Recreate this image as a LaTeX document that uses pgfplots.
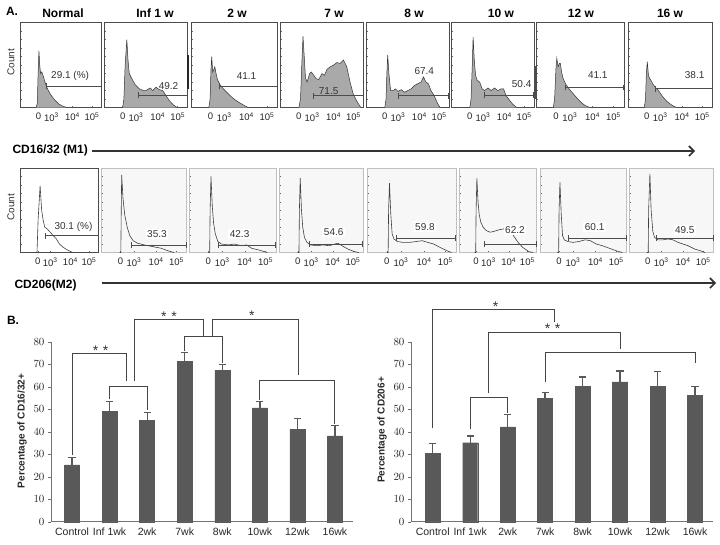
\documentclass[border=0pt]{standalone}
\usepackage{pgfplots}
\pgfplotsset{compat=1.18}
\usetikzlibrary{arrows.meta}
\usepackage{fontspec}
\setmainfont{Liberation Sans}
\definecolor{barg}{HTML}{595959}
\definecolor{brk}{HTML}{454545}
\definecolor{histfill}{HTML}{A9A9A9}
\pgfplotsset{
 histo/.style={scale only axis, anchor=south west, xmin=0,xmax=1,ymin=0,ymax=1,
   xtick={0.22,0.38,0.64,0.88},
   xticklabels={0,10\textsuperscript{3},10\textsuperscript{4},10\textsuperscript{5}},
   ytick={0.1,0.2,...,0.9}, yticklabels={}, tick align=inside, major tick length=1.6pt,
   xtick pos=left, ytick pos=left,
   tick style={black!60, line width=0.4pt},
   xticklabel style={font=\fontsize{9.5}{10}\selectfont, text=black!85, yshift=-1.5pt},
   axis line style={black!70, line width=0.6pt}, clip=false},
 h2/.style={axis line style={black!25, line width=0.6pt}, axis background/.style={fill=black!3}},
 c1/.style={draw=black!80, fill=histfill, line width=0.5pt},
 c2/.style={draw=black!75, line width=0.6pt},
 gate/.style={black!70, line width=0.7pt, |-|},
 barax/.style={scale only axis, anchor=south west, width=302pt, height=180pt,
   ymin=0, ymax=80, axis x line*=bottom, axis y line*=left,
   axis line style={black!55, line width=0.6pt},
   ytick={0,10,...,80}, xtick={0,...,7},
   xticklabels={Control,Inf 1wk,2wk,7wk,8wk,10wk,12wk,16wk},
   x tick style={draw=none}, y tick style={black!55},
   tick align=outside, major tick length=3pt,
   ticklabel style={font=\fontsize{10.5}{12}\selectfont, text=black!85},
   clip=false, unbounded coords=jump},
 barpl/.style={ybar, bar width=15pt, fill=barg, draw=barg},
 whisk/.style={barg, line width=1.3pt},
 caps/.style={only marks, mark=-, mark size=3.6pt, mark options={draw=barg, line width=1.3pt}},
}
\tikzset{
 lab/.style={font=\fontsize{10}{11}\selectfont, text=black!80},
 labw/.style={lab, fill=white, inner sep=1.5pt},
 ttl/.style={font=\fontsize{12}{14}\selectfont\bfseries},
 brkl/.style={brk, line width=1pt},
 star/.style={font=\fontsize{14}{15}\selectfont, text=black!80, anchor=base},
}
\newcommand{\histA}[8]{%
\begin{axis}[histo,at={(#1pt,-#2pt)},width=#3pt,height=#4pt,#5]
\addplot[c1] coordinates {#6};
\addplot[gate] coordinates {#7};
#8
\end{axis}}
\newcommand{\histB}[8]{%
\begin{axis}[histo,at={(#1pt,-#2pt)},width=#3pt,height=#4pt,#5]
\addplot[c2] coordinates {#6};
\addplot[gate] coordinates {#7};
#8
\end{axis}}
\begin{document}
\begin{tikzpicture}
\useasboundingbox (0,0) rectangle (720pt,-544pt);
% ---------- panel labels ----------
\node[ttl] at (12pt,-11.5pt) {A.};
\node[ttl] at (13pt,-320pt) {B.};
% ---------- titles row 1 ----------
\node[ttl] at (63pt,-13pt) {Normal};
\node[ttl] at (155pt,-13pt) {Inf 1 w};
\node[ttl] at (237pt,-13pt) {2 w};
\node[ttl] at (334pt,-13pt) {7 w};
\node[ttl] at (414pt,-13pt) {8 w};
\node[ttl] at (501pt,-13pt) {10 w};
\node[ttl] at (581pt,-13pt) {12 w};
\node[ttl] at (670pt,-13pt) {16 w};
\node[lab, rotate=90] at (11pt,-62pt) {Count};
\node[lab, rotate=90] at (11pt,-207pt) {Count};
% ---------- row 1 ----------
\histA{20.7}{107.5}{81}{84.8}{}{(0.19,0)(0.205,0.05)(0.215,0.4)(0.225,0.67)(0.235,0.5)(0.245,0.4)(0.26,0.42)(0.275,0.38)(0.3,0.3)(0.33,0.22)(0.37,0.15)(0.42,0.09)(0.47,0.04)(0.52,0.015)(0.57,0)}{(0.31,0.255)(1,0.255)}{\node[lab] at (axis cs:0.61,0.37) {29.1 (\%)};}
\histA{104.3}{107.5}{83.4}{84.8}{}{(0.22,0)(0.235,0.1)(0.25,0.5)(0.27,0.80)(0.285,0.55)(0.3,0.4)(0.33,0.34)(0.37,0.27)(0.42,0.22)(0.47,0.2)(0.5,0.2)(0.55,0.23)(0.58,0.2)(0.62,0.24)(0.66,0.21)(0.7,0.2)(0.74,0.14)(0.78,0.08)(0.83,0.03)(0.87,0)}{(0.40,0.145)(1,0.145)}{\node[lab] at (axis cs:0.77,0.25) {49.2};}
\histA{191.7}{107.5}{85.6}{84.8}{}{(0.2,0)(0.215,0.1)(0.225,0.45)(0.234,0.60)(0.245,0.42)(0.26,0.45)(0.27,0.48)(0.285,0.4)(0.3,0.33)(0.33,0.27)(0.37,0.22)(0.42,0.17)(0.47,0.12)(0.52,0.08)(0.57,0.05)(0.62,0.02)(0.66,0)}{(0.32,0.25)(1,0.25)}{\node[lab] at (axis cs:0.64,0.37) {41.1};}
\histA{280.7}{107.5}{82.6}{84.8}{}{(0.22,0)(0.24,0.1)(0.255,0.5)(0.27,0.84)(0.285,0.6)(0.3,0.35)(0.32,0.3)(0.35,0.4)(0.37,0.42)(0.4,0.38)(0.43,0.34)(0.46,0.33)(0.5,0.4)(0.53,0.38)(0.56,0.45)(0.6,0.48)(0.64,0.5)(0.68,0.53)(0.72,0.52)(0.76,0.56)(0.8,0.48)(0.84,0.3)(0.88,0.15)(0.93,0.06)(0.97,0)}{(0.39,0.14)(1,0.14)}{\node[lab] at (axis cs:0.58,0.19) {71.5};}
\histA{366.7}{107.5}{82.3}{84.8}{}{(0.22,0)(0.235,0.1)(0.245,0.4)(0.255,0.62)(0.27,0.4)(0.29,0.2)(0.32,0.2)(0.35,0.22)(0.38,0.19)(0.42,0.21)(0.46,0.18)(0.5,0.2)(0.54,0.22)(0.58,0.26)(0.62,0.28)(0.66,0.3)(0.69,0.36)(0.72,0.3)(0.75,0.28)(0.78,0.2)(0.82,0.14)(0.86,0.05)(0.89,0)}{(0.38,0.14)(1,0.14)}{\node[lab] at (axis cs:0.70,0.43) {67.4};}
\histA{451.7}{107.5}{82.3}{84.8}{}{(0.22,0)(0.235,0.1)(0.25,0.5)(0.26,0.83)(0.275,0.55)(0.29,0.38)(0.31,0.32)(0.34,0.3)(0.37,0.22)(0.4,0.2)(0.44,0.23)(0.48,0.2)(0.52,0.23)(0.56,0.2)(0.6,0.22)(0.63,0.22)(0.66,0.14)(0.7,0.09)(0.74,0.04)(0.79,0)}{(0.39,0.145)(1,0.145)}{\node[lab] at (axis cs:0.85,0.28) {50.4};}
\histA{536.7}{107.5}{87.3}{84.8}{}{(0.19,0)(0.205,0.1)(0.22,0.45)(0.23,0.58)(0.245,0.48)(0.26,0.52)(0.27,0.52)(0.285,0.42)(0.3,0.35)(0.33,0.28)(0.37,0.22)(0.42,0.16)(0.47,0.1)(0.52,0.05)(0.56,0.02)(0.61,0)}{(0.32,0.236)(1,0.236)}{\node[lab] at (axis cs:0.70,0.38) {41.1};}
\histA{628.3}{107.5}{84}{84.8}{}{(0.19,0)(0.205,0.1)(0.215,0.4)(0.226,0.54)(0.24,0.38)(0.255,0.34)(0.27,0.32)(0.29,0.28)(0.32,0.24)(0.36,0.2)(0.4,0.14)(0.45,0.08)(0.5,0.04)(0.54,0.015)(0.58,0)}{(0.32,0.22)(1,0.22)}{\node[lab] at (axis cs:0.79,0.38) {38.1};}
\draw[black!85, line width=1.1pt] (188pt,-55pt) -- (188pt,-89pt);
\draw[black!70, line width=1pt] (535pt,-66pt) -- (535pt,-99pt);
% ---------- row 2 ----------
\histB{20.7}{252.5}{77.6}{84.5}{}{(0.19,0)(0.21,0)(0.225,0.4)(0.25,0.79)(0.27,0.5)(0.29,0.38)(0.31,0.3)(0.34,0.28)(0.38,0.24)(0.42,0.2)(0.46,0.16)(0.5,0.1)(0.55,0.06)(0.6,0.03)(0.67,0)}{(0.31,0.2)(1,0.2)}{\node[lab] at (axis cs:0.68,0.30) {30.1 (\%)};}
\histB{101.7}{252.5}{85}{84.5}{h2}{(0.21,0)(0.225,0)(0.23,0.5)(0.235,0.92)(0.25,0.65)(0.27,0.45)(0.3,0.3)(0.33,0.2)(0.37,0.14)(0.42,0.11)(0.5,0.09)(0.6,0.07)(0.7,0.05)(0.78,0.02)(0.85,0)}{(0.35,0.09)(1,0.09)}{\node[labw] at (axis cs:0.65,0.22) {35.3};}
\histB{189.3}{252.5}{86.7}{84.5}{h2}{(0.22,0)(0.235,0)(0.24,0.5)(0.25,0.9)(0.265,0.55)(0.28,0.35)(0.3,0.22)(0.33,0.13)(0.37,0.1)(0.45,0.09)(0.52,0.1)(0.6,0.08)(0.66,0.09)(0.72,0.05)(0.8,0.03)(0.9,0)}{(0.33,0.09)(1,0.09)}{\node[labw] at (axis cs:0.58,0.22) {42.3};}
\histB{279.3}{252.5}{83.7}{84.5}{h2}{(0.22,0)(0.235,0)(0.24,0.5)(0.25,0.88)(0.265,0.5)(0.28,0.3)(0.3,0.18)(0.33,0.12)(0.37,0.09)(0.45,0.08)(0.52,0.09)(0.6,0.08)(0.66,0.1)(0.7,0.11)(0.75,0.08)(0.82,0.04)(0.9,0.01)(0.95,0)}{(0.36,0.1)(1,0.1)}{\node[labw] at (axis cs:0.65,0.24) {54.6};}
\histB{367.3}{252.5}{88.7}{84.5}{h2}{(0.22,0)(0.235,0)(0.24,0.5)(0.25,0.82)(0.265,0.45)(0.28,0.22)(0.3,0.16)(0.34,0.13)(0.4,0.12)(0.48,0.12)(0.55,0.13)(0.62,0.14)(0.68,0.12)(0.75,0.1)(0.82,0.06)(0.9,0.02)(0.95,0)}{(0.32,0.17)(1,0.17)}{\node[labw] at (axis cs:0.65,0.30) {59.8};}
\histB{459}{252.5}{77.7}{84.5}{h2}{(0.2,0)(0.215,0)(0.22,0.5)(0.23,0.88)(0.245,0.6)(0.26,0.45)(0.28,0.36)(0.31,0.3)(0.35,0.26)(0.4,0.24)(0.45,0.25)(0.52,0.27)(0.58,0.28)(0.63,0.3)(0.66,0.27)(0.7,0.2)(0.76,0.12)(0.82,0.06)(0.9,0.01)(0.95,0)}{(0.32,0.1)(1,0.1)}{\node[labw] at (axis cs:0.72,0.27) {62.2};}
\histB{540}{252.5}{86.7}{84.5}{h2}{(0.2,0)(0.215,0)(0.22,0.5)(0.23,0.83)(0.245,0.45)(0.26,0.2)(0.28,0.15)(0.32,0.13)(0.38,0.12)(0.45,0.13)(0.52,0.15)(0.58,0.14)(0.65,0.1)(0.72,0.08)(0.8,0.05)(0.88,0.02)(0.95,0)}{(0.32,0.17)(1,0.17)}{\node[labw] at (axis cs:0.63,0.30) {60.1};}
\histB{629.3}{252.5}{84}{84.5}{h2}{(0.21,0)(0.225,0)(0.23,0.5)(0.245,0.93)(0.26,0.5)(0.28,0.25)(0.3,0.18)(0.34,0.15)(0.4,0.15)(0.46,0.16)(0.52,0.15)(0.58,0.12)(0.64,0.1)(0.7,0.08)(0.78,0.04)(0.85,0.02)(0.9,0)}{(0.32,0.17)(1,0.17)}{\node[labw] at (axis cs:0.66,0.27) {49.5};}
% ---------- arrows ----------
\node[ttl, anchor=west] at (9pt,-150pt) {CD16/32 (M1)};
\draw[black!80, line width=1.6pt, -{Straight Barb[length=5pt,width=10pt]}] (92pt,-151pt) -- (695pt,-151pt);
\node[ttl, anchor=west] at (11pt,-285pt) {CD206(M2)};
\draw[black!80, line width=1.6pt, -{Straight Barb[length=5pt,width=10pt]}] (102pt,-283pt) -- (716pt,-283pt);
% ---------- bar chart left ----------
\node[font=\fontsize{10}{12}\selectfont\bfseries, rotate=90, text=black!85] at (22pt,-431pt) {Percentage of CD16/32+};
\begin{axis}[barax, at={(51pt,-521.7pt)}, xmin=-0.56, xmax=7.48]
\addplot[barpl] coordinates {(0,25.3) (1,49.0) (2,45.2) (3,71.3) (4,67.3) (5,50.6) (6,40.9) (7,38.2)};
\addplot[whisk] coordinates {(0,25.3)(0,28.5) (0,nan) (1,49.0)(1,53.5) (1,nan) (2,45.2)(2,48.5) (2,nan) (3,71.3)(3,75.3) (3,nan) (4,67.3)(4,70.0) (4,nan) (5,50.6)(5,53.4) (5,nan) (6,40.9)(6,45.9) (6,nan) (7,38.2)(7,42.8)};
\addplot[caps] coordinates {(0,28.5)(1,53.5)(2,48.5)(3,75.3)(4,70.0)(5,53.4)(6,45.9)(7,42.8)};
\draw[brkl] (axis cs:0,29.5) -- (axis cs:0,74.7) -- (axis cs:1.45,74.7) -- (axis cs:1.45,62.7);
\node[star] at (axis cs:0.76,73.8) {*\,\,*};
\draw[brkl] (axis cs:1,54.5) -- (axis cs:1,60.3) -- (axis cs:2,60.3) -- (axis cs:2,49.5);
\draw[brkl] (axis cs:1.66,62.7) -- (axis cs:1.66,90) -- (axis cs:3.5,90) -- (axis cs:3.5,82.2);
\node[star] at (axis cs:2.58,89.2) {*\,\,*};
\draw[brkl] (axis cs:3,76) -- (axis cs:3,82.2) -- (axis cs:4,82.2) -- (axis cs:4,70.5);
\draw[brkl] (axis cs:3.73,82.2) -- (axis cs:3.73,90) -- (axis cs:6.04,90) -- (axis cs:6.04,65.2);
\node[star] at (axis cs:4.79,89.6) {*};
\draw[brkl] (axis cs:5,54) -- (axis cs:5,62.7) -- (axis cs:7,62.7) -- (axis cs:7,43.5);
\end{axis}
% ---------- bar chart right ----------
\node[font=\fontsize{10}{12}\selectfont\bfseries, rotate=90, text=black!85] at (382pt,-430pt) {Percentage of CD206+};
\begin{axis}[barax, at={(411pt,-521.7pt)}, xmin=-0.58, xmax=7.48]
\addplot[barpl] coordinates {(0,30.4) (1,35.1) (2,42.2) (3,54.7) (4,60.3) (5,62.2) (6,60.3) (7,56.2)};
\addplot[whisk] coordinates {(0,30.4)(0,34.8) (0,nan) (1,35.1)(1,38.1) (1,nan) (2,42.2)(2,47.6) (2,nan) (3,54.7)(3,57.5) (3,nan) (4,60.3)(4,64.3) (4,nan) (5,62.2)(5,67.0) (5,nan) (6,60.3)(6,66.7) (6,nan) (7,56.2)(7,60.2)};
\addplot[caps] coordinates {(0,34.8)(1,38.1)(2,47.6)(3,57.5)(4,64.3)(5,67.0)(6,66.7)(7,60.2)};
\draw[brkl] (axis cs:0,41.5) -- (axis cs:0,94.1) -- (axis cs:3.26,94.1) -- (axis cs:3.26,88.8);
\node[star] at (axis cs:1.68,93.4) {*};
\draw[brkl] (axis cs:1.5,57.2) -- (axis cs:1.5,84.3) -- (axis cs:5.02,84.3) -- (axis cs:5.02,76.8);
\node[star] at (axis cs:3.2,83.6) {*\,\,*};
\draw[brkl] (axis cs:1,41) -- (axis cs:1,55) -- (axis cs:2,55) -- (axis cs:2,48.5);
\draw[brkl] (axis cs:3,62) -- (axis cs:3,75.1) -- (axis cs:7,75.1) -- (axis cs:7,70.6);
\end{axis}
\end{tikzpicture}
\end{document}
